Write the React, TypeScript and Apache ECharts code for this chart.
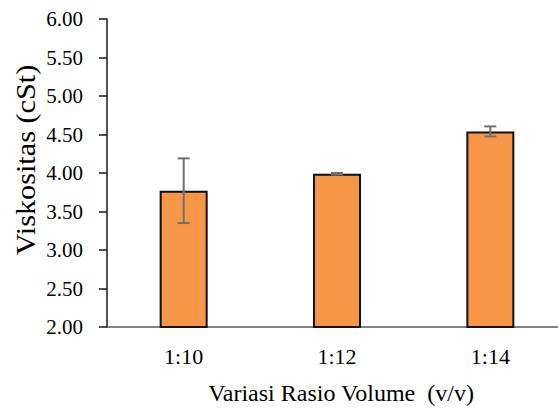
import React, { useEffect, useRef } from "react";
import * as echarts from "echarts";

const categories = ["1:10", "1:12", "1:14"];
const meanValues = [3.77, 3.99, 4.54];
const errorValues = [0.42, 0.01, 0.065];
const yTicks = { min: 2, max: 6, interval: 0.5 };
const yTitle = "Viskositas (cSt)";
const xTitle = "Variasi Rasio Volume  (v/v)";

const FONT = "Liberation Serif";

export default function App() {
  const ref = useRef<HTMLDivElement>(null);
  useEffect(() => {
    if (!ref.current) return;
    const chart = echarts.init(ref.current, undefined, { renderer: "svg" });
    const errData = meanValues.map((m, i) => [i, m - errorValues[i], m + errorValues[i]]);
    chart.setOption({
      animation: false,
      backgroundColor: "#ffffff",
      textStyle: { fontFamily: FONT },
      grid: { left: 107, top: 19, bottom: 81, right: 3, containLabel: false },
      xAxis: {
        type: "category",
        data: categories,
        axisLine: { show: true, lineStyle: { color: "#595959", width: 1.5 } },
        axisTick: { show: false },
        axisLabel: { color: "#000", fontSize: 22, fontFamily: FONT, margin: 18 },
      },
      yAxis: {
        type: "value",
        min: yTicks.min,
        max: yTicks.max,
        interval: yTicks.interval,
        splitLine: { show: false },
        axisLine: { show: true, lineStyle: { color: "#1a1a1a", width: 1.5 } },
        axisTick: { show: true, length: 8, lineStyle: { color: "#1a1a1a", width: 1.5 } },
        axisLabel: {
          color: "#000",
          fontSize: 21,
          fontFamily: FONT,
          margin: 24,
          formatter: (v: number) => v.toFixed(2),
        },
      },
      graphic: [
        {
          type: "text",
          x: 25,
          y: 160,
          rotation: Math.PI / 2,
          scaleX: 1.08,
          style: {
            text: yTitle,
            fontSize: 28,
            fontFamily: FONT,
            fill: "#000",
            align: "center",
            verticalAlign: "middle",
          },
        },
        {
          type: "text",
          x: 341,
          y: 393,
          style: {
            text: xTitle,
            fontSize: 24,
            fontFamily: FONT,
            fill: "#000",
            align: "center",
            verticalAlign: "middle",
          },
        },
      ],
      series: [
        {
          type: "bar",
          data: meanValues,
          barWidth: 48,
          itemStyle: { color: "#F79646", borderColor: "#111", borderWidth: 2 },
        },
        {
          type: "custom",
          data: errData,
          z: 10,
          renderItem: (params: any, api: any) => {
            const idx = api.value(0);
            const lo = api.coord([idx, api.value(1)]);
            const hi = api.coord([idx, api.value(2)]);
            const half = 6;
            const style = { stroke: "#707070", lineWidth: 2 };
            return {
              type: "group",
              children: [
                { type: "line", shape: { x1: hi[0], y1: hi[1], x2: lo[0], y2: lo[1] }, style },
                { type: "line", shape: { x1: hi[0] - half, y1: hi[1], x2: hi[0] + half, y2: hi[1] }, style },
                { type: "line", shape: { x1: lo[0] - half, y1: lo[1], x2: lo[0] + half, y2: lo[1] }, style },
              ],
            };
          },
        },
      ],
    });
    return () => chart.dispose();
  }, []);
  return (
    <div style={{ position: "absolute", left: 0, top: 0, width: 558, height: 408, overflow: "hidden" }}>
      <div ref={ref} style={{ width: 570, height: 408 }} />
    </div>
  );
}
